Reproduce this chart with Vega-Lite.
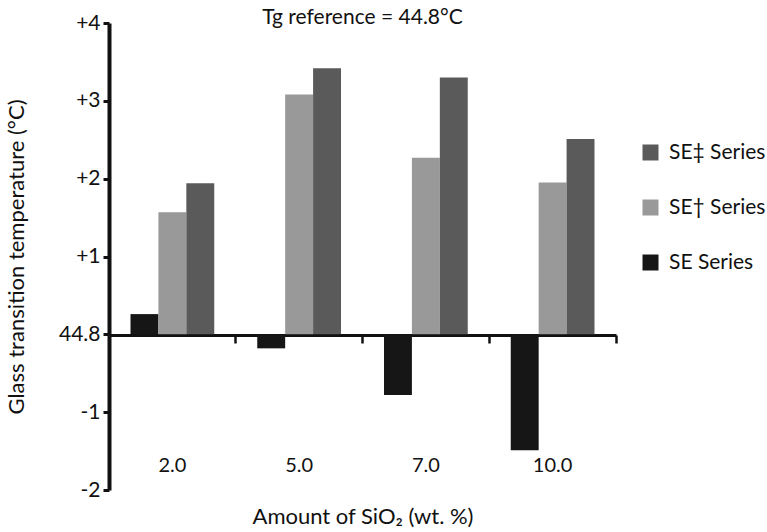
{
  "$schema": "https://vega.github.io/schema/vega-lite/v6.json",
  "width": 507,
  "height": 467,
  "autosize": {"type": "none"},
  "padding": {"left": 109, "top": 23, "right": 151, "bottom": 42},
  "background": "white",
  "config": {
    "font": "Lato",
    "view": {"stroke": null},
    "axis": {"labelColor": "#111111", "titleColor": "#111111", "labelFont": "Lato", "titleFont": "Lato", "titleFontWeight": "normal", "grid": false}
  },
  "title": {"text": "Tg reference = 44.8°C", "fontSize": 21, "fontWeight": "normal", "anchor": "middle", "offset": -16, "color": "#111111", "font": "Lato"},
  "data": {
    "values": [
      {"amount": "2.0", "series": "SE Series", "delta": 0.26},
      {"amount": "2.0", "series": "SE† Series", "delta": 1.57},
      {"amount": "2.0", "series": "SE‡ Series", "delta": 1.94},
      {"amount": "5.0", "series": "SE Series", "delta": -0.18},
      {"amount": "5.0", "series": "SE† Series", "delta": 3.08},
      {"amount": "5.0", "series": "SE‡ Series", "delta": 3.42},
      {"amount": "7.0", "series": "SE Series", "delta": -0.78},
      {"amount": "7.0", "series": "SE† Series", "delta": 2.27},
      {"amount": "7.0", "series": "SE‡ Series", "delta": 3.30},
      {"amount": "10.0", "series": "SE Series", "delta": -1.49},
      {"amount": "10.0", "series": "SE† Series", "delta": 1.95},
      {"amount": "10.0", "series": "SE‡ Series", "delta": 2.51}
    ]
  },
  "encoding": {
    "y": {
      "field": "delta",
      "type": "quantitative",
      "scale": {"domain": [-2, 4], "nice": false},
      "axis": {
        "title": "Glass transition temperature (°C)",
        "titleFontSize": 22,
        "titlePadding": 30,
        "values": [-2, -1, 0, 1, 2, 3, 4],
        "labelExpr": "datum.value == 0 ? '44.8' : (datum.value > 0 ? '+' + datum.value : '' + datum.value)",
        "labelFontSize": 21,
        "labelPadding": 3,
        "domainWidth": 4,
        "domainColor": "#111111",
        "tickSize": 6,
        "tickWidth": 3,
        "tickColor": "#111111"
      }
    },
    "xOffset": {
      "field": "series",
      "type": "nominal",
      "scale": {"domain": ["SE Series", "SE† Series", "SE‡ Series"], "paddingInner": 0, "paddingOuter": 0.77}
    },
    "color": {
      "field": "series",
      "type": "nominal",
      "scale": {"domain": ["SE‡ Series", "SE† Series", "SE Series"], "range": ["#5a5a5a", "#999999", "#161616"]},
      "legend": {
        "title": null,
        "orient": "none",
        "legendX": 531,
        "legendY": 119,
        "symbolType": "square",
        "symbolSize": 256,
        "symbolStrokeWidth": 0,
        "labelFontSize": 21,
        "labelFont": "Lato",
        "labelColor": "#111111",
        "labelOffset": 8,
        "rowPadding": 33
      }
    }
  },
  "layer": [
    {
      "transform": [{"filter": "datum.series == 'SE Series'"}],
      "mark": {"type": "bar"},
      "encoding": {
        "x": {
          "field": "amount",
          "type": "nominal",
          "scale": {"domain": ["2.0", "5.0", "7.0", "10.0"], "paddingInner": 0, "paddingOuter": 0},
          "axis": {
            "orient": "bottom",
            "offset": -155,
            "title": null,
            "labels": false,
            "domain": true,
            "domainWidth": 3,
            "domainColor": "#111111",
            "ticks": true,
            "bandPosition": 1,
            "tickSize": 8,
            "tickWidth": 2.5,
            "tickColor": "#111111"
          }
        }
      }
    },
    {
      "transform": [{"filter": "datum.series != 'SE Series'"}],
      "mark": {"type": "bar"},
      "encoding": {
        "x": {
          "field": "amount",
          "type": "nominal",
          "scale": {"domain": ["2.0", "5.0", "7.0", "10.0"], "paddingInner": 0, "paddingOuter": 0},
          "axis": {
            "orient": "bottom",
            "offset": -36,
            "domain": false,
            "ticks": false,
            "labelAngle": 0,
            "labelFontSize": 20,
            "labelPadding": 1,
            "title": "Amount of SiO₂   (wt. %)",
            "titleFontSize": 22,
            "titlePadding": 31
          }
        }
      }
    }
  ],
  "resolve": {"axis": {"x": "independent"}}
}
